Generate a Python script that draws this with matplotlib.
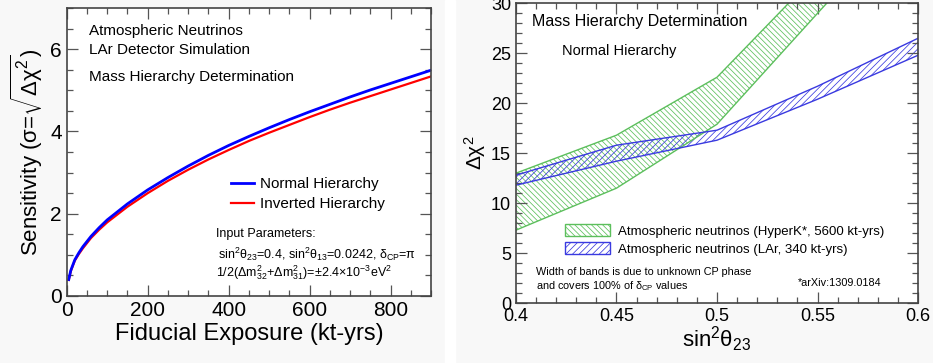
import numpy as np
import matplotlib.pyplot as plt
from matplotlib.patches import Patch
from matplotlib.ticker import MultipleLocator

plt.rcParams['font.family'] = ['Liberation Sans', 'DejaVu Sans']
plt.rcParams['mathtext.fontset'] = 'custom'
plt.rcParams['mathtext.rm'] = 'Liberation Sans'
plt.rcParams['mathtext.it'] = 'Liberation Sans'
plt.rcParams['mathtext.default'] = 'regular'
plt.rcParams['hatch.linewidth'] = 0.55

# left panel: sensitivity vs exposure
exposure = [5, 10, 20, 30, 40, 60, 80, 100, 150, 200, 250, 300, 350, 400,
            450, 500, 550, 600, 650, 700, 750, 800, 850, 900]
sens_nh = [0.40, 0.62, 0.88, 1.05, 1.20, 1.45, 1.66, 1.85, 2.24, 2.58, 2.88, 3.16,
           3.42, 3.66, 3.88, 4.09, 4.29, 4.48, 4.66, 4.84, 5.01, 5.17, 5.33, 5.49]
sens_ih = [0.39, 0.60, 0.86, 1.02, 1.16, 1.41, 1.61, 1.79, 2.17, 2.50, 2.80, 3.07,
           3.32, 3.55, 3.77, 3.97, 4.16, 4.35, 4.53, 4.70, 4.86, 5.02, 5.18, 5.34]

# right panel: delta chi2 bands vs sin^2 theta23
s23 = [0.40, 0.45, 0.50, 0.55, 0.60]
hk_low = [7.3, 11.5, 17.9, 29.0, 40.0]
hk_high = [13.0, 16.8, 22.6, 33.0, 44.0]
lar_low = [11.8, 14.2, 16.3, 20.4, 24.8]
lar_high = [12.8, 15.8, 17.3, 21.7, 26.5]

green = '#5cbf5c'
blue = '#3a3ae0'
green_hatch = '\\' * 6
blue_hatch = '/' * 5

fig = plt.figure(figsize=(9.33, 3.63), dpi=100, facecolor='#f8f8f8')
fig.patches.append(plt.Rectangle((445 / 933, 0), 10 / 933, 1, transform=fig.transFigure,
                                 color='white', zorder=0))


def root_style(ax, xmaj, xmin, ymaj, ymin, size):
    ax.xaxis.set_major_locator(MultipleLocator(xmaj))
    ax.xaxis.set_minor_locator(MultipleLocator(xmin))
    ax.yaxis.set_major_locator(MultipleLocator(ymaj))
    ax.yaxis.set_minor_locator(MultipleLocator(ymin))
    ax.tick_params(which='both', direction='in', top=True, right=True,
                   color='#555555', width=0.9)
    ax.tick_params(which='major', length=8, labelsize=size)
    ax.tick_params(which='minor', length=4)
    for s in ax.spines.values():
        s.set_linewidth(1.2)
        s.set_color('#444444')


ax1 = fig.add_axes([0.0715, 0.1846, 0.3905, 0.793])
ax1.plot(exposure, sens_ih, color='#ff0000', lw=1.6, label='Inverted Hierarchy')
ax1.plot(exposure, sens_nh, color='#0000ff', lw=2, label='Normal Hierarchy')
ax1.set_xlim(0, 900)
ax1.set_ylim(0, 7)
root_style(ax1, 200, 50, 2, 0.5, 15)
ax1.set_xlabel('Fiducial Exposure (kt-yrs)', fontsize=17, labelpad=2)
ax1.set_ylabel(r'Sensitivity ($\sigma$=$\sqrt{\Delta\chi^2}$)', fontsize=16, labelpad=4)
ax1.text(0.06, 0.92, 'Atmospheric Neutrinos', transform=ax1.transAxes, fontsize=11, va='center')
ax1.text(0.06, 0.855, 'LAr Detector Simulation', transform=ax1.transAxes, fontsize=11, va='center')
ax1.text(0.06, 0.76, 'Mass Hierarchy Determination', transform=ax1.transAxes, fontsize=11, va='center')
h, l = ax1.get_legend_handles_labels()
ax1.legend(h[::-1], l[::-1], loc='upper left', bbox_to_anchor=(0.43, 0.44), frameon=False,
           fontsize=11, handlelength=1.5, handletextpad=0.4, labelspacing=0.4, borderpad=0)
ax1.text(0.41, 0.215, 'Input Parameters:', transform=ax1.transAxes, fontsize=9, va='center')
ax1.text(0.415, 0.145, r'sin$^2\theta_{23}$=0.4, sin$^2\theta_{13}$=0.0242, $\delta_{CP}$=$\pi$',
         transform=ax1.transAxes, fontsize=9, va='center')
ax1.text(0.41, 0.08, r'1/2($\Delta m^2_{32}$+$\Delta m^2_{31}$)=$\pm$2.4$\times$10$^{-3}$eV$^2$',
         transform=ax1.transAxes, fontsize=9, va='center')

ax2 = fig.add_axes([0.553, 0.165, 0.431, 0.826])
ax2.fill_between(s23, hk_low, hk_high, facecolor='none', edgecolor=green, hatch=green_hatch, lw=0)
ax2.plot(s23, hk_low, color=green, lw=1)
ax2.plot(s23, hk_high, color=green, lw=1)
ax2.fill_between(s23, lar_low, lar_high, facecolor='none', edgecolor=blue, hatch=blue_hatch, lw=0)
ax2.plot(s23, lar_low, color=blue, lw=1)
ax2.plot(s23, lar_high, color=blue, lw=1)
ax2.set_xlim(0.4, 0.6)
ax2.set_ylim(0, 30)
root_style(ax2, 0.05, 0.01, 5, 1, 13)
ax2.xaxis.set_major_formatter(plt.FuncFormatter(lambda v, p: ('%g' % round(v, 2))))
ax2.set_xlabel(r'sin$^2\theta_{23}$', fontsize=16, labelpad=0)
ax2.set_ylabel(r'$\Delta\chi^2$', fontsize=15, labelpad=2)
ax2.text(0.04, 0.94, 'Mass Hierarchy Determination', transform=ax2.transAxes, fontsize=11.5, va='center')
ax2.text(0.115, 0.84, 'Normal Hierarchy', transform=ax2.transAxes, fontsize=10.5, va='center')
handles = [Patch(facecolor='none', edgecolor=green, hatch=green_hatch, lw=1),
           Patch(facecolor='none', edgecolor=blue, hatch=blue_hatch, lw=1)]
ax2.legend(handles, ['Atmospheric neutrinos (HyperK*, 5600 kt-yrs)',
                     'Atmospheric neutrinos (LAr, 340 kt-yrs)'],
           loc='upper left', bbox_to_anchor=(0.105, 0.285), frameon=False, fontsize=9.5,
           handlelength=3.4, handleheight=1.0, handletextpad=0.6, labelspacing=0.35, borderpad=0)
ax2.text(0.05, 0.105, 'Width of bands is due to unknown CP phase', transform=ax2.transAxes,
         fontsize=7.8, va='center')
ax2.text(0.05, 0.058, r'and covers 100% of $\delta_{CP}$ values', transform=ax2.transAxes,
         fontsize=7.8, va='center')
ax2.text(0.7, 0.068, '*arXiv:1309.0184', transform=ax2.transAxes, fontsize=7.8, va='center')

fig.savefig('out.png', dpi=100, facecolor=fig.get_facecolor())
